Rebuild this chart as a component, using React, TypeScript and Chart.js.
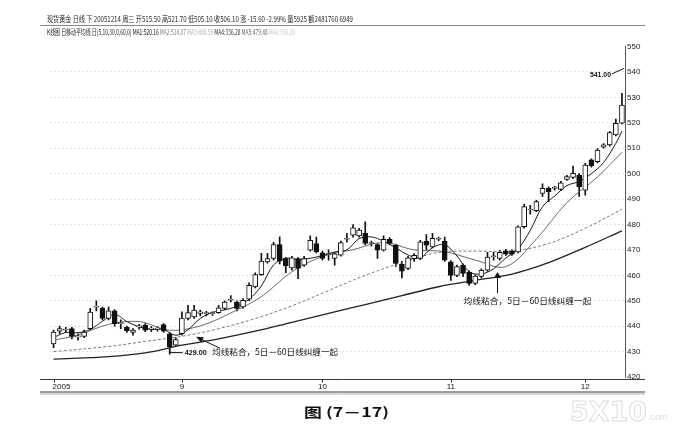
import React, { useEffect, useRef } from 'react';
import { Chart, registerables } from 'chart.js';

Chart.register(...registerables);

// ---- candle data (spot gold, daily) ----
const opens = [
  433, 438, 438.5, 439, 435.8, 436, 439, 447.5, 447, 443, 446, 441, 439.5, 437.5, 439.7, 440.4, 438.8, 438.8, 440.6, 437,
  432.5, 437, 443, 443.6, 445, 444.9, 444.9, 445.3, 447, 450.2, 449.5, 447.6, 450.6, 455.4, 460.3, 465.3, 466.6, 472.1, 466.6, 462.9,
  466.6, 464, 469.9, 472.5, 468.8, 468.2, 466.6, 467.9, 474.2, 475.8, 475.5, 476.5, 472.5, 472.1, 469.9, 474.2, 471.9, 464.3, 462.7, 466.5,
  466.6, 473.4, 471.2, 474.2, 473.4, 465.3, 460, 464, 461.3, 456.8, 459.6, 462, 467.3, 466.6, 469.6, 469.6, 469.2, 479.1, 485.7, 485.4,
  492.2, 494.2, 494.2, 493.8, 497.7, 498.5, 499.4, 493.5, 505.4, 504.7, 510.4, 511.3, 515.2, 519.8,
];
const closes = [
  437.7, 439, 438.5, 436, 435.8, 437.7, 445.5, 447.5, 443, 446, 441, 441, 438.2, 438.5, 439.7, 438.4, 438.8, 438.8, 438, 431.8,
  434.7, 443.2, 445.3, 446.3, 445.6, 444.9, 444.9, 447.2, 449.5, 450.2, 447, 450.2, 456.1, 460.3, 465.6, 466.6, 472.1, 465.6, 463.7, 466.9,
  462.7, 466.6, 473.8, 469.2, 466.6, 468.2, 468.4, 472.9, 474.2, 478.7, 477.8, 472.5, 472.5, 469.9, 474.2, 472.5, 464.7, 461.6, 466.9, 467.9,
  473.2, 471.9, 474.5, 474.2, 466, 460, 463.4, 460.7, 456.8, 459.7, 462, 467.2, 467.3, 469, 468.3, 468.3, 479.1, 487, 485.7, 489,
  494.2, 492.9, 494.2, 496.4, 498.8, 500.1, 494.8, 503.4, 503, 509.3, 511.3, 516.1, 519.8, 527,
];
const highs = [
  438.5, 440, 439.5, 439.5, 437, 438.5, 447, 450, 447.5, 447.5, 446.5, 442.5, 440, 439, 440.7, 441, 439.8, 439.8, 441, 437.5,
  435.5, 445.6, 448.2, 448.2, 446.3, 445.8, 445.6, 448.2, 450, 452, 450, 450.8, 457, 461, 468.6, 468.6, 473, 475.1, 467, 467.5,
  467, 467.5, 475.5, 475, 469.5, 470, 469, 473.5, 476.5, 480, 478.5, 481, 473.5, 472.5, 475.5, 474.8, 472.3, 465.5, 467.5, 468.5,
  473.8, 476, 476.5, 475, 475, 465.8, 464, 464.5, 461.8, 460.2, 462.5, 469, 469, 469.8, 470.2, 470, 479.5, 488, 487.5, 489.5,
  496, 494.8, 495, 497, 499.3, 503, 500, 504, 505.8, 509.8, 511.8, 516.6, 521.5, 531.6,
];
const lows = [
  431.5, 437, 437.5, 435, 434.5, 435.5, 438.5, 446, 442.5, 442.5, 440, 439, 437.5, 436.5, 438.8, 437.8, 437.8, 438, 437.5, 429,
  432, 436.5, 442.5, 443, 444, 444, 444.2, 445, 446.5, 449.5, 446, 447, 450, 455, 460, 464.8, 466, 464.5, 461, 462,
  458.7, 463.5, 469.5, 468.8, 466, 466, 464, 467.5, 473, 475, 475, 472, 471.5, 466.6, 469.5, 472, 463.5, 459, 462.2, 465.5,
  466.2, 470, 470.8, 473.5, 465.5, 458, 459.5, 459.5, 456, 456.3, 459, 461.5, 466, 466, 467.8, 467.8, 468.8, 478.5, 484, 485,
  491, 489, 493.5, 493.3, 497.3, 498, 491, 491.5, 502.5, 504.2, 510, 510.8, 514.8, 519.5,
];
const dayLabels = closes.map((_, i) => String(i + 1));

// ---- month tick labels (at candle index, 0-based) ----
const monthLabels = ['2005', '9', '10', '11', '12'];
const monthIndex = [0, 21, 44, 65, 87];

// ---- moving averages: [day, value] ----
const ma5 = [
  [1, 435.5], [3, 437.5], [5, 437.4], [7, 438.7], [9, 441.9], [11, 444.6], [13, 441.8], [15, 439.7], [17, 438.7], [19, 438.7],
  [21, 436.4], [23, 438.6], [25, 443], [27, 445.4], [29, 446.4], [31, 447.8], [33, 450.6], [35, 455.8], [37, 464.1], [39, 466.7],
  [41, 466.2], [43, 466.7], [45, 467.8], [47, 469.2], [49, 470], [51, 474.4], [53, 475.1], [55, 473.4], [57, 470.8], [59, 468],
  [61, 466.9], [63, 470.9], [65, 472], [67, 467.6], [69, 461.4], [71, 460.5], [73, 462.6], [75, 466.8], [77, 470.4], [79, 477.7],
  [81, 487], [83, 491.2], [85, 495.3], [87, 496.9], [89, 500], [91, 504.4], [93, 511.9], [94, 516.7],
];
const ma10 = [
  [1, 434.5], [5, 436.5], [10, 440.7], [15, 441.8], [20, 438.4], [25, 440.1], [30, 445.2], [35, 451.6], [40, 461.4], [45, 467.4],
  [50, 470.1], [55, 472.9], [60, 470], [65, 469.3], [70, 466], [75, 463.4], [80, 474.3], [85, 488.6], [90, 498.7], [94, 508.4],
];
const ma30 = [
  [1, 430], [10, 432], [16, 434], [22, 436], [28, 439], [34, 443], [40, 448], [46, 454], [52, 460], [58, 465],
  [64, 469], [70, 469.5], [76, 469.5], [82, 472.5], [88, 478.5], [94, 486],
];
const ma60 = [
  [1, 427], [10, 428], [16, 429.5], [22, 432.5], [28, 435], [34, 438], [40, 441.5], [46, 445], [52, 448.5], [58, 452],
  [64, 455.5], [70, 458], [76, 460.5], [82, 465], [88, 471], [94, 477.5],
];

// ---- texts ----
const headerRow1 = [
  { text: '现货黄金 日线 下 20051214 周三 开515.50 高521.70 低505.10 收506.10 涨 -15.60 -2.99% 量5925 额2481760 6949', color: '#1e1e1e' },
];
const headerRow2 = [
  { text: 'K线图 日移动平均线 日(5,10,30,0,60,0) ', color: '#1e1e1e' },
  { text: 'MA1:520.16 ', color: '#111111' },
  { text: 'MA2:514.07 ', color: '#808080' },
  { text: 'MA3:490.59 ', color: '#b0b0b0' },
  { text: 'MA4:336.28 ', color: '#333333' },
  { text: 'MA5:479.48 ', color: '#6a6a6a' },
  { text: 'MA6:336.28', color: '#cccccc' },
];
const noteText = '均线粘合，5日－60日线纠缠一起';
const lowLabel = { day: 20, value: 429, text: '429.00' };
const highLabel = { day: 94, value: 541, text: '541.00' };
const arrowA = { day: 24, value: 435.6 };
const arrowB = { day: 73, value: 461.3 };
const caption = '图 (7－17)';

const CJK = '"Noto Sans CJK SC", "Noto Sans", sans-serif';
const NUM = '"Liberation Sans", Arial, sans-serif';

type Seg = { text: string; color: string };

function drawRow(ctx: CanvasRenderingContext2D, segs: Seg[], x: number, y: number, width: number, font: string) {
  ctx.font = font;
  const total = segs.reduce((s, g) => s + ctx.measureText(g.text).width, 0);
  const k = width / total;
  ctx.save();
  ctx.translate(x, y);
  ctx.scale(k, 1);
  ctx.textAlign = 'left';
  ctx.textBaseline = 'middle';
  let cx = 0;
  for (const g of segs) {
    ctx.fillStyle = g.color;
    ctx.fillText(g.text, cx, 0);
    cx += ctx.measureText(g.text).width;
  }
  ctx.restore();
}

function arrowHead(ctx: CanvasRenderingContext2D, tx: number, ty: number, fx: number, fy: number, len: number, half: number) {
  const dx = tx - fx;
  const dy = ty - fy;
  const d = Math.hypot(dx, dy) || 1;
  const ux = dx / d;
  const uy = dy / d;
  const bx = tx - ux * len;
  const by = ty - uy * len;
  ctx.beginPath();
  ctx.moveTo(tx, ty);
  ctx.lineTo(bx - uy * half, by + ux * half);
  ctx.lineTo(bx + uy * half, by - ux * half);
  ctx.closePath();
  ctx.fill();
}

const decor = {
  id: 'decor',
  afterDraw(chart: any) {
    const ctx: CanvasRenderingContext2D = chart.ctx;
    const xs = chart.scales.x;
    const ys = chart.scales.y;
    const area = chart.chartArea;
    const px = (day: number) => xs.getPixelForValue(day - 1);
    ctx.save();

    // header
    drawRow(ctx, headerRow1, 47, 19, 306, `8px ${CJK}`);
    drawRow(ctx, headerRow2, 47, 31.5, 248, `8px ${CJK}`);
    ctx.strokeStyle = '#8a8a8a';
    ctx.lineWidth = 1;
    ctx.beginPath();
    ctx.moveTo(40, 25.5);
    ctx.lineTo(645, 25.5);
    ctx.stroke();

    // bottom axis band
    const yA = Math.round(area.bottom) + 2.5;
    ctx.strokeStyle = '#3a3a3a';
    ctx.beginPath();
    ctx.moveTo(40, yA);
    ctx.lineTo(645, yA);
    ctx.moveTo(40, yA + 12.5);
    ctx.lineTo(645, yA + 12.5);
    ctx.stroke();
    ctx.strokeStyle = '#b0b0b0';
    ctx.beginPath();
    ctx.moveTo(40, yA + 14.5);
    ctx.lineTo(645, yA + 14.5);
    ctx.stroke();

    ctx.fillStyle = '#111';
    ctx.font = `8px ${NUM}`;
    ctx.textBaseline = 'middle';
    monthLabels.forEach((lab, i) => {
      const x = xs.getPixelForValue(monthIndex[i]);
      ctx.strokeStyle = '#2a2a2a';
      ctx.beginPath();
      ctx.moveTo(Math.round(x) + 0.5, yA);
      ctx.lineTo(Math.round(x) + 0.5, yA + 3);
      ctx.stroke();
      ctx.textAlign = i === 0 ? 'left' : 'center';
      ctx.fillText(lab, i === 0 ? x - 1 : x, yA + 7.5);
    });

    // low label 429.00
    {
      const x = px(lowLabel.day);
      const y = ys.getPixelForValue(lowLabel.value) - 1.5;
      ctx.strokeStyle = '#111';
      ctx.beginPath();
      ctx.moveTo(x, y - 4);
      ctx.lineTo(x, y);
      ctx.lineTo(x + 13, y);
      ctx.stroke();
      ctx.fillStyle = '#111';
      ctx.font = `bold 8px ${NUM}`;
      ctx.textAlign = 'left';
      ctx.fillText(lowLabel.text, x + 15, y + 0.5, 22);
    }

    // high label 541.00
    {
      const x = px(highLabel.day) + 1;
      const y = ys.getPixelForValue(highLabel.value);
      ctx.strokeStyle = '#111';
      ctx.beginPath();
      ctx.moveTo(x - 11, y + 4.5);
      ctx.lineTo(x + 1, y - 1);
      ctx.stroke();
      ctx.fillStyle = '#111';
      ctx.font = `bold 8px ${NUM}`;
      ctx.textAlign = 'right';
      ctx.fillText(highLabel.text, x - 12, y + 5.5, 21);
    }

    // arrow A
    {
      const tx = px(arrowA.day) + 3;
      const ty = ys.getPixelForValue(arrowA.value);
      const ex = tx + 23;
      const ey = ty + 11;
      ctx.strokeStyle = '#111';
      ctx.beginPath();
      ctx.moveTo(ex, ey);
      ctx.lineTo(tx, ty);
      ctx.stroke();
      ctx.fillStyle = '#111';
      arrowHead(ctx, tx - 1, ty - 0.5, ex, ey, 7, 3);
      drawRow(ctx, [{ text: noteText, color: '#111' }], tx + 15, ty + 14.7, 126, `8.5px ${CJK}`);
    }

    // arrow B
    {
      const tx = Math.round(px(arrowB.day) + 3) + 0.5;
      const ty = ys.getPixelForValue(arrowB.value);
      ctx.strokeStyle = '#111';
      ctx.beginPath();
      ctx.moveTo(tx, ty + 21);
      ctx.lineTo(tx, ty + 3);
      ctx.stroke();
      ctx.fillStyle = '#111';
      arrowHead(ctx, tx, ty, tx, ty + 10, 6, 3.5);
      drawRow(ctx, [{ text: noteText, color: '#111' }], tx - 34, ty + 28.5, 128, `8.5px ${CJK}`);
    }

    // caption
    drawRow(ctx, [{ text: caption, color: '#111' }], 304, 412, 85, `bold 13px ${CJK}`);

    // watermark
    ctx.save();
    ctx.strokeStyle = '#dcdcdc';
    ctx.lineWidth = 1;
    ctx.font = `bold 27px "DejaVu Sans", sans-serif`;
    ctx.textAlign = 'left';
    ctx.textBaseline = 'alphabetic';
    const w = ctx.measureText('5X10').width;
    ctx.translate(570, 421);
    ctx.scale(77 / w, 1);
    ctx.strokeText('5X10', 0, 0);
    ctx.restore();
    ctx.fillStyle = '#dcdcdc';
    ctx.font = `9px ${NUM}`;
    ctx.textAlign = 'left';
    ctx.textBaseline = 'alphabetic';
    ctx.fillText('.com', 648, 420);

    ctx.restore();
  },
};

const toPts = (arr: number[][]) => arr.map(([d, v]) => ({ x: String(d), y: v }));

export default function App() {
  const ref = useRef<HTMLCanvasElement>(null);
  useEffect(() => {
    document.body.style.margin = '0';
    const canvas = ref.current!;
    const bodyData = opens.map((o, i) => [o, closes[i]]);
    const wickData = lows.map((l, i) => [l, highs[i]]);
    const bodyFill = opens.map((o, i) => (closes[i] < o ? '#111111' : '#ffffff'));
    const lineBase = { type: 'line', pointRadius: 0, pointHoverRadius: 0, fill: false, tension: 0.35, spanGaps: true };
    const chart = new Chart(canvas, {
      type: 'bar',
      data: {
        labels: dayLabels,
        datasets: [
          {
            type: 'bar', label: 'body', data: bodyData, backgroundColor: bodyFill, borderColor: '#111111',
            borderWidth: 1, borderSkipped: false, barThickness: 5, minBarLength: 1, grouped: false, order: 0,
          },
          { ...lineBase, label: 'MA5', data: toPts(ma5), borderColor: '#1a1a1a', borderWidth: 1, order: 1 },
          { ...lineBase, label: 'MA10', data: toPts(ma10), borderColor: '#5a5a5a', borderWidth: 0.9, order: 2 },
          { ...lineBase, label: 'MA30', data: toPts(ma30), borderColor: '#7a7a7a', borderWidth: 1, borderDash: [3, 2], order: 3 },
          { ...lineBase, label: 'MA60', data: toPts(ma60), borderColor: '#222222', borderWidth: 1.3, order: 4 },
          {
            type: 'bar', label: 'wick', data: wickData, backgroundColor: '#111111', borderWidth: 0,
            barThickness: 1, grouped: false, order: 5,
          },
        ] as any,
      },
      options: {
        animation: false,
        responsive: false,
        maintainAspectRatio: false,
        events: [],
        layout: { padding: { left: 50.5, right: 0, top: 46.5, bottom: 55 } },
        plugins: { legend: { display: false }, tooltip: { enabled: false } },
        scales: {
          x: { type: 'category', offset: true, display: false },
          y: {
            position: 'right',
            min: 420,
            max: 550,
            afterFit: (s: any) => { s.width = 67; },
            ticks: { stepSize: 10, color: '#222', font: { family: 'Liberation Sans', size: 8 }, padding: 2, crossAlign: 'near' },
            grid: {
              drawTicks: false,
              color: (c: any) => (c.tick && (c.tick.value === 420 || c.tick.value === 550) ? 'rgba(0,0,0,0)' : '#c2c2c2'),
              lineWidth: 1,
            },
            border: { display: true, color: '#555', width: 1, dash: [1, 3] },
          },
        },
      },
      plugins: [decor],
    } as any);
    return () => chart.destroy();
  }, []);
  return <canvas ref={ref} width={692} height={432} style={{ display: 'block', width: 692, height: 432 }} />;
}
